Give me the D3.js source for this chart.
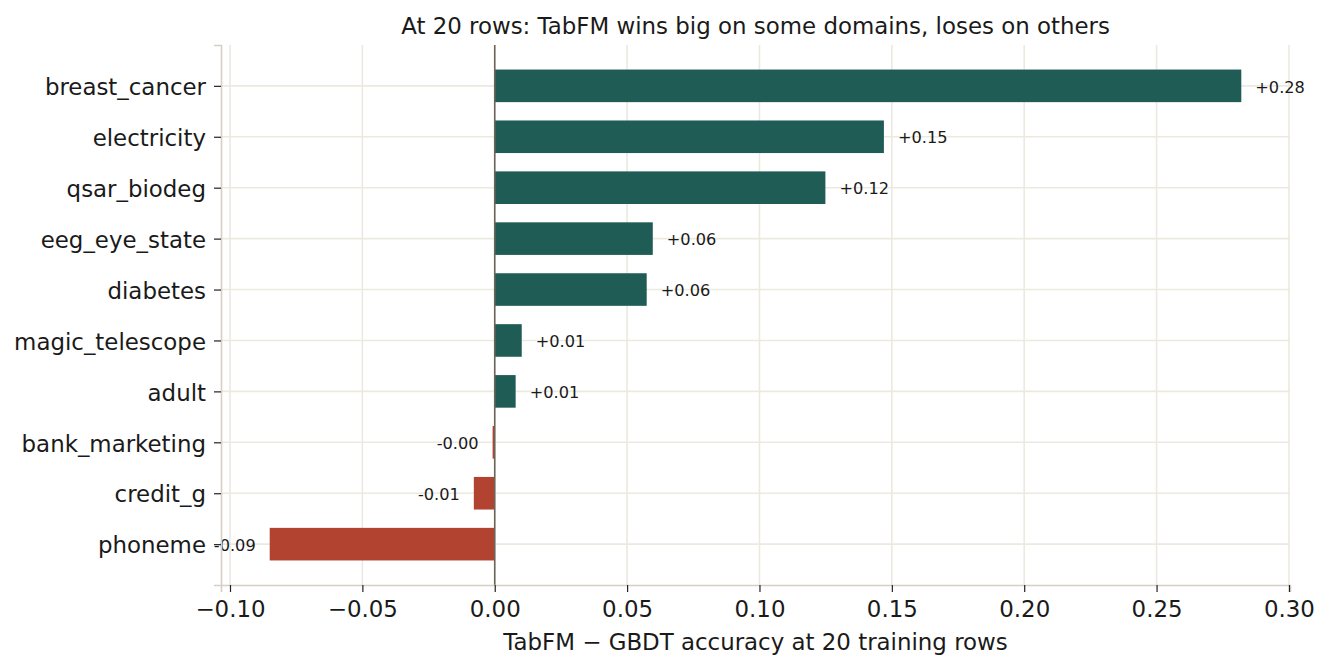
<!DOCTYPE html>
<html>
<head>
<meta charset="utf-8">
<script src="https://cdn.jsdelivr.net/npm/d3@7"></script>
<style>
  body { margin: 0; background: #fff; }
  text { font-family: "DejaVu Sans", sans-serif; }
</style>
</head>
<body>
<div id="chart"></div>
<script>
// datasets, top to bottom
const datasets = ["breast_cancer", "electricity", "qsar_biodeg", "eeg_eye_state", "diabetes",
  "magic_telescope", "adult", "bank_marketing", "credit_g", "phoneme"];
// TabFM - GBDT accuracy at 20 rows
const deltas = [0.282, 0.147, 0.1249, 0.0597, 0.0574, 0.0102, 0.0079, -0.0008, -0.0079, -0.085];
const xTicks = [-0.10, -0.05, 0.00, 0.05, 0.10, 0.15, 0.20, 0.25, 0.30];

const width = 1330, height = 670;
const margin = {top: 45, right: 40, bottom: 85, left: 221};

const svg = d3.select("#chart").append("svg")
    .attr("width", width)
    .attr("height", height);

const x = d3.scaleLinear()
    .domain([-0.1034, 0.3004])
    .range([margin.left, width - margin.right]);

const y = d3.scaleLinear()
    .domain([-0.802, datasets.length - 1 + 0.802])
    .range([margin.top, height - margin.bottom]);

const barH = y(0.64) - y(0);

// grid
svg.append("g").selectAll("line")
  .data(xTicks)
  .join("line")
    .attr("x1", d => x(d)).attr("x2", d => x(d))
    .attr("y1", margin.top).attr("y2", height - margin.bottom)
    .attr("stroke", "#ece9df").attr("stroke-width", 1.6);

svg.append("g").selectAll("line")
  .data(datasets)
  .join("line")
    .attr("x1", margin.left).attr("x2", width - margin.right)
    .attr("y1", (d, i) => y(i)).attr("y2", (d, i) => y(i))
    .attr("stroke", "#ece9df").attr("stroke-width", 1.6);

// bars
svg.append("g").selectAll("rect")
  .data(deltas)
  .join("rect")
    .attr("x", d => x(Math.min(0, d)))
    .attr("width", d => Math.abs(x(d) - x(0)))
    .attr("y", (d, i) => y(i) - barH / 2)
    .attr("height", barH)
    .attr("fill", d => d >= 0 ? "#1f5c55" : "#b24330");

// value labels
svg.append("g").selectAll("text")
  .data(deltas)
  .join("text")
    .attr("x", d => d >= 0 ? x(d) + 14 : x(d) - 14)
    .attr("y", (d, i) => y(i) + 1)
    .attr("dy", "0.35em")
    .attr("text-anchor", d => d >= 0 ? "start" : "end")
    .attr("font-size", 16.2)
    .attr("fill", "#1a1a1a")
    .text(d => (d >= 0 ? "+" : "-") + Math.abs(d).toFixed(2));

// zero line
svg.append("line")
    .attr("x1", x(0)).attr("x2", x(0))
    .attr("y1", margin.top).attr("y2", height - margin.bottom)
    .attr("stroke", "#6b6558").attr("stroke-width", 1.6);

// axes
const xAxis = svg.append("g")
    .attr("transform", `translate(0,${height - margin.bottom})`)
    .call(d3.axisBottom(x).tickValues(xTicks).tickSizeOuter(0).tickSize(7).tickPadding(9)
      .tickFormat(d => d3.format(".2f")(d).replace("-", "\u2212")));
xAxis.select(".domain").attr("stroke", "#d5d0c5").attr("stroke-width", 1.6);
xAxis.selectAll(".tick line").attr("stroke", "#222").attr("stroke-width", 1.2);
xAxis.selectAll(".tick text").attr("font-size", 22.9).attr("fill", "#1a1a1a")
    .attr("font-family", "DejaVu Sans");

const yAxis = svg.append("g")
    .attr("transform", `translate(${margin.left},0)`)
    .call(d3.axisLeft(y).tickValues(d3.range(datasets.length)).tickSizeOuter(0).tickSize(7).tickPadding(8)
      .tickFormat(i => datasets[i]));
yAxis.select(".domain").attr("stroke", "#d5d0c5").attr("stroke-width", 1.6);
yAxis.selectAll(".tick line").attr("stroke", "#222").attr("stroke-width", 1.2);
yAxis.selectAll(".tick text").attr("font-size", 22.9).attr("fill", "#1a1a1a")
    .attr("font-family", "DejaVu Sans").attr("dy", "0.38em");

// title and axis label
svg.append("text")
    .attr("x", (margin.left + width - margin.right) / 2)
    .attr("y", 26)
    .attr("dy", "0.35em")
    .attr("text-anchor", "middle")
    .attr("font-size", 22.9)
    .attr("fill", "#1a1a1a")
    .text("At 20 rows: TabFM wins big on some domains, loses on others");

svg.append("text")
    .attr("x", (margin.left + width - margin.right) / 2)
    .attr("y", 642)
    .attr("dy", "0.35em")
    .attr("text-anchor", "middle")
    .attr("font-size", 22.9)
    .attr("fill", "#1a1a1a")
    .text("TabFM \u2212 GBDT accuracy at 20 training rows");
</script>
</body>
</html>
